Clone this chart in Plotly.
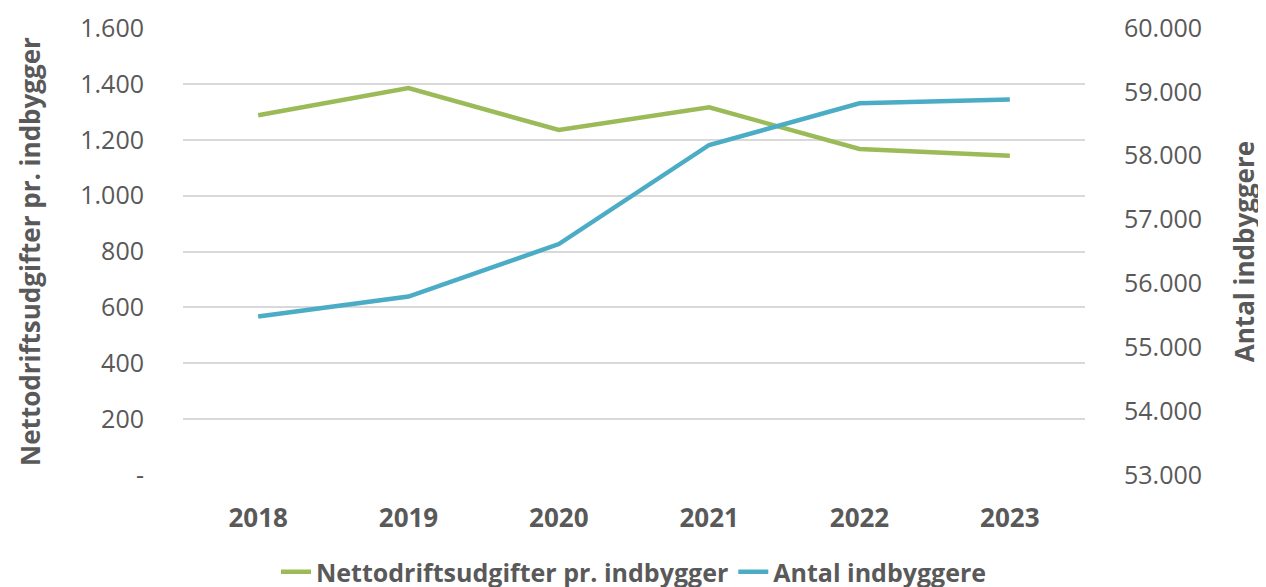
import plotly.graph_objects as go

years = ["2018", "2019", "2020", "2021", "2022", "2023"]
netto = [1288, 1385, 1235, 1316, 1167, 1143]
antal = [55483, 55794, 56616, 58168, 58820, 58882]
left_ticks = [0, 200, 400, 600, 800, 1000, 1200, 1400, 1600]
left_labels = ["-", "200", "400", "600", "800", "1.000", "1.200", "1.400", "1.600"]
right_ticks = [53000, 54000, 55000, 56000, 57000, 58000, 59000, 60000]
right_labels = ["53.000", "54.000", "55.000", "56.000", "57.000", "58.000", "59.000", "60.000"]

txt = "#595959"
fig = go.Figure()
fig.add_trace(go.Scatter(x=years, y=netto, mode="lines", name="Nettodriftsudgifter pr. indbygger",
                         line=dict(color="#9BBB59", width=4.5)))
fig.add_trace(go.Scatter(x=years, y=antal, mode="lines", name="Antal indbyggere", yaxis="y2",
                         line=dict(color="#4BACC6", width=4.5)))

fig.update_layout(
    width=1266, height=587,
    margin=dict(l=175, r=189, t=20, b=120),
    paper_bgcolor="white", plot_bgcolor="white",
    font=dict(family="Open Sans", color=txt, size=26),
    showlegend=True,
    legend=dict(orientation="h", x=0.5, xanchor="center", yref="container", y=0.0, yanchor="bottom",
                font=dict(size=25, color=txt, family="Open Sans", weight="bold"),
                tracegroupgap=0),
    xaxis=dict(type="category", range=[-0.5, 5.5], showgrid=False, showline=False, ticks="",
               tickfont=dict(size=26, color=txt, weight="bold"), ticklabelstandoff=25,
               automargin=False),
    yaxis=dict(range=[0, 1600], tickvals=left_ticks, ticktext=left_labels,
               showgrid=True, gridcolor="#D9D9D9", gridwidth=1.5, zeroline=False,
               tickfont=dict(size=25, color=txt), ticklabelstandoff=38, automargin=False,
               ticklabeloverflow="allow",
               title=dict(text="Nettodriftsudgifter pr. indbygger", standoff=32,
                          font=dict(size=26, color=txt, weight="bold"))),
    yaxis2=dict(range=[53000, 60000], tickvals=right_ticks, ticktext=right_labels,
                overlaying="y", side="right", showgrid=False, zeroline=False,
                tickfont=dict(size=25, color=txt), ticklabelstandoff=38, automargin=False,
                ticklabeloverflow="allow",
                title=dict(text="Antal indbyggere", standoff=34,
                           font=dict(size=26, color=txt, weight="bold"))),
)
fig.write_html("out.html")
